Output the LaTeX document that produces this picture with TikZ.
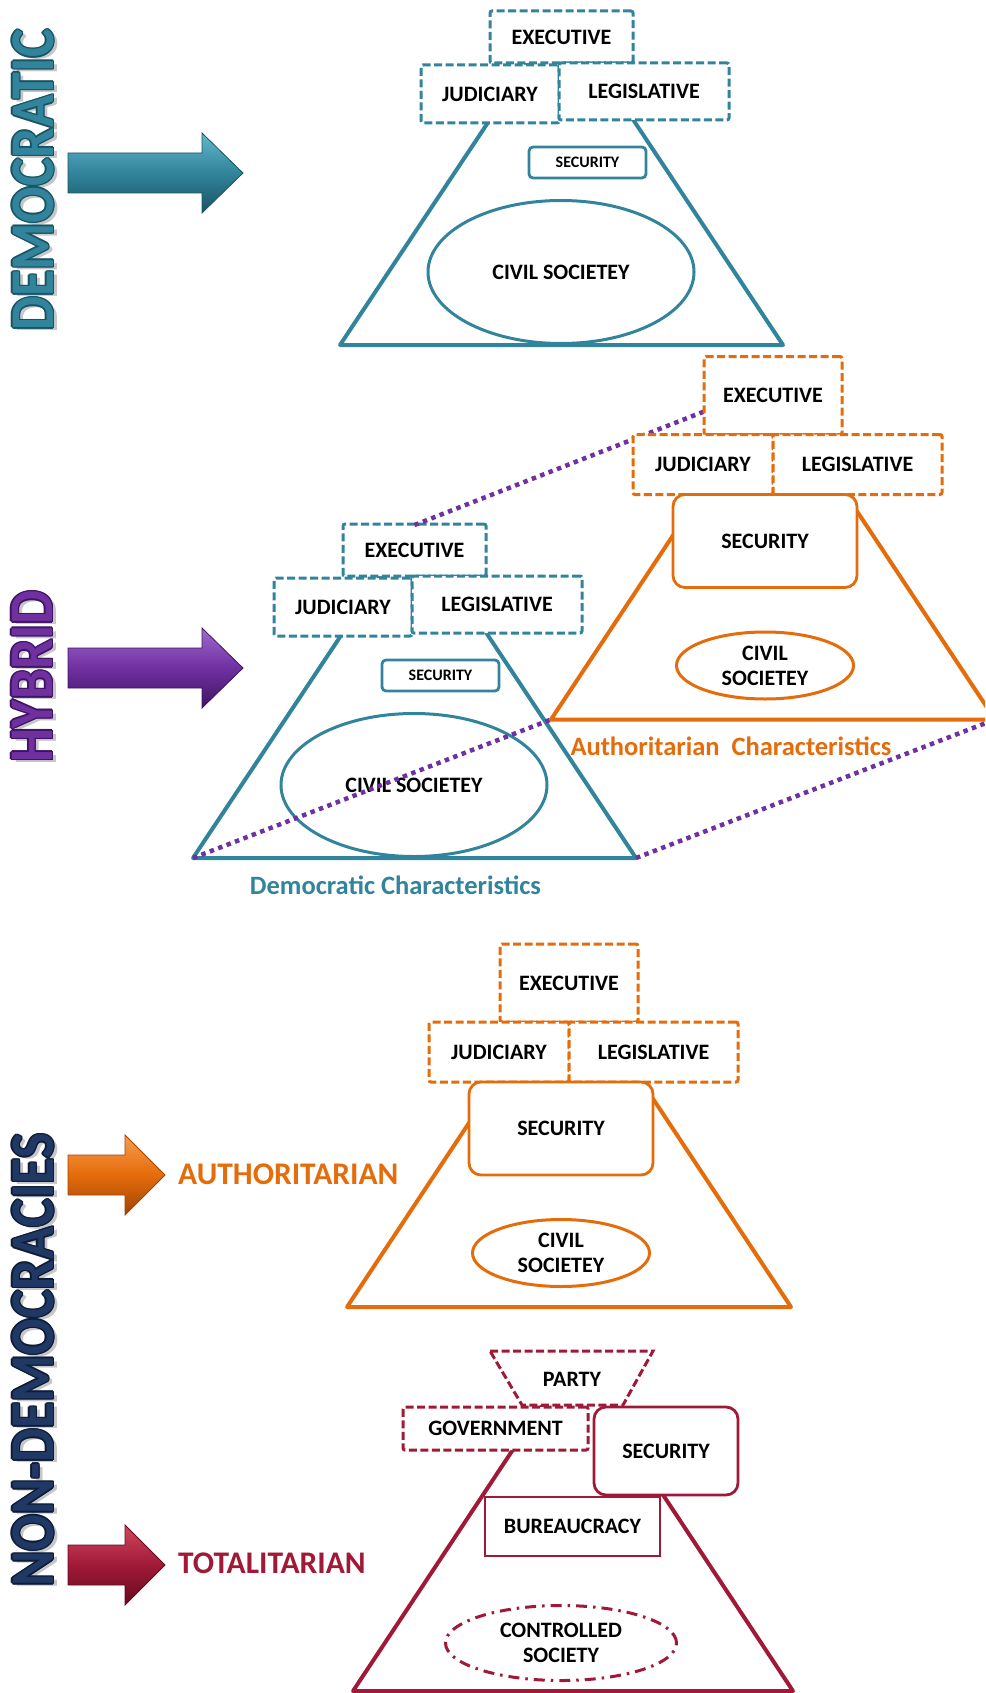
\documentclass[tikz,border=0pt]{standalone}
\usepackage{fontspec}
\setmainfont{Carlito}
\usetikzlibrary{shapes.geometric}

% palette
\definecolor{demteal}{RGB}{49,132,155}
\definecolor{demtealdk}{RGB}{25,84,100}
\definecolor{demteallt}{RGB}{100,182,202}
\definecolor{autorange}{RGB}{228,108,10}
\definecolor{autorangedk}{RGB}{160,68,6}
\definecolor{autorangelt}{RGB}{248,156,80}
\definecolor{hybpurple}{RGB}{112,48,160}
\definecolor{hybpurpledk}{RGB}{62,20,100}
\definecolor{hybpurplelt}{RGB}{160,105,205}
\definecolor{totred}{RGB}{160,26,56}
\definecolor{totreddk}{RGB}{100,10,30}
\definecolor{totredlt}{RGB}{210,70,95}
\definecolor{navytext}{RGB}{32,56,100}
\definecolor{navytextdk}{RGB}{14,28,56}

\newcommand\boxfont{\fontsize{22}{25}\selectfont\bfseries}
\newcommand\smallboxfont{\fontsize{16}{18}\selectfont\bfseries}
\newcommand\captionfont{\fontsize{26.5}{30}\selectfont\bfseries}
\newcommand\kindfont{\fontsize{31.5}{35}\selectfont\bfseries}
\newcommand\titlefont{\fontsize{54}{54}\selectfont\bfseries}

\tikzset{
  dashbox/.style={draw=#1, fill=white, line width=3pt, dash pattern=on 8pt off 3.5pt,
    rounded corners=2pt, inner sep=0pt, font=\boxfont, text=black},
  solidbox/.style={draw=#1, fill=white, line width=2.8pt, rounded corners=12pt,
    inner sep=0pt, font=\boxfont, text=black},
  smallsec/.style={draw=demteal, fill=white, line width=2.8pt, rounded corners=4pt,
    inner sep=0pt, font=\smallboxfont, text=black},
  society/.style={ellipse, draw=#1, line width=3pt, inner sep=0pt, font=\boxfont,
    align=center, text=black},
  pyramid/.style={draw=#1, line width=4pt, line join=round},
  zoomline/.style={draw=hybpurple, line width=4.5pt, dash pattern=on 4.5pt off 4.5pt},
  fatarrow/.style={top color=#1lt, bottom color=#1dk, middle color=#1,
    draw=#1dk, line width=0.8pt},
  sidetitle/.style={rotate=90, inner sep=0pt, font=\titlefont},
  sideshadow/.style={rotate=90, inner sep=0pt, font=\titlefont, text=black!55, opacity=0.4},
}

% vertical title with shadow and outline: name, colour, edge colour, x, y, text
\newcommand\verticaltitle[6]{%
  \node[sideshadow] (#1shadow) at (#4+4,#5+3) {\scalebox{1}[1.15]{#6}};
  \foreach \dx/\dy [count=\k] in {1.4/0,-1.4/0,0/1.4,0/-1.4,1/1,-1/1,1/-1,-1/-1}
    \node[sidetitle, text=#3] (#1edge\k) at (#4+\dx,#5+\dy) {\scalebox{1}[1.15]{#6}};
  \node[sidetitle, text=#2] (#1) at (#4,#5) {\scalebox{1}[1.15]{#6}};}

% block arrow: colour, left x, head base x, tip x, centre y
\newcommand\blockarrow[5]{%
  \shade[fatarrow=#1] (#2,#5-20) -- (#3,#5-20) -- (#3,#5-40) -- (#4,#5)
    -- (#3,#5+40) -- (#3,#5+20) -- (#2,#5+20) -- cycle;}

% corners of the authoritarian pyramid: prefix, shift x, shift y
\newcommand\orangecorners[3]{%
  \begin{scope}[shift={(#2,#3)}]
    \coordinate (#1bl) at (347,1307);
    \coordinate (#1br) at (791,1307);
    \coordinate (#1top) at (569,972);
  \end{scope}}

% democratic pyramid: prefix, shift x, shift y
\newcommand\tealgroup[3]{%
  \begin{scope}[shift={(#2,#3)}]
    \coordinate (#1bl) at (340,345);
    \coordinate (#1br) at (783,345);
    \coordinate (#1top) at (561.5,12);
    \draw[pyramid=demteal] (#1bl) -- (#1br) -- (#1top) -- cycle;
    \node[society=demteal, minimum width=266pt, minimum height=143pt] (#1civ) at (561,272) {CIVIL SOCIETEY};
    \node[smallsec, minimum width=117pt, minimum height=31pt] (#1sec) at (587.5,162.5) {SECURITY};
    \node[dashbox=demteal, minimum width=143pt, minimum height=52pt] (#1exec) at (561.5,37) {EXECUTIVE};
    \node[dashbox=demteal, minimum width=138pt, minimum height=58pt] (#1jud) at (490,94) {JUDICIARY};
    \node[dashbox=demteal, minimum width=170pt, minimum height=57pt] (#1leg) at (644,91.5) {LEGISLATIVE};
  \end{scope}}

% authoritarian pyramid: prefix, shift x, shift y
\newcommand\orangegroup[3]{%
  \orangecorners{#1}{#2}{#3}
  \begin{scope}[shift={(#2,#3)}]
    \draw[pyramid=autorange] (#1bl) -- (#1br) -- (#1top) -- cycle;
    \node[society=autorange, minimum width=177pt, minimum height=67pt] (#1civ) at (561,1253) {CIVIL\\SOCIETEY};
    \node[dashbox=autorange, minimum width=138pt, minimum height=78pt] (#1exec) at (569,983) {EXECUTIVE};
    \node[dashbox=autorange, minimum width=140pt, minimum height=60pt] (#1jud) at (499,1052) {JUDICIARY};
    \node[dashbox=autorange, minimum width=169pt, minimum height=60pt] (#1leg) at (653.5,1052) {LEGISLATIVE};
    \node[solidbox=autorange, minimum width=184pt, minimum height=93pt] (#1sec) at (561,1128.5) {SECURITY};
  \end{scope}}

\begin{document}
\begin{tikzpicture}[x=1pt, y=-1pt]
  \useasboundingbox (0,0) rectangle (985,1693);
  \clip (0,0) rectangle (985,1693);

  % side titles
  \verticaltitle{demtitle}{demteal}{demtealdk}{33}{180}{DEMOCRATIC}
  \verticaltitle{hybtitle}{hybpurple}{hybpurpledk}{32}{676.5}{HYBRID}
  \verticaltitle{nontitle}{navytext}{navytextdk}{33}{1360}{NON-DEMOCRACIES}

  % arrows
  \blockarrow{demteal}{68}{202}{243}{173}
  \blockarrow{hybpurple}{68}{202}{243}{668}
  \blockarrow{autorange}{68}{125}{165}{1175}
  \blockarrow{totred}{68}{125}{165}{1565}

  \node[font=\kindfont, text=autorange, anchor=base west, inner sep=0pt] (autlabel) at (178,1184) {AUTHORITARIAN};
  \node[font=\kindfont, text=totred, anchor=base west, inner sep=0pt] (totlabel) at (178,1573) {TOTALITARIAN};

  % democratic
  \tealgroup{d}{0}{0}

  % hybrid: democratic side
  \tealgroup{h}{-147}{513}
  \node[font=\captionfont, text=demteal, anchor=base, inner sep=0pt] (demchar) at (395.5,894) {Democratic Characteristics};

  % hybrid: projection lines towards the authoritarian side
  \orangecorners{o}{204}{-587.5}
  \draw[zoomline] (htop) -- (otop);
  \draw[zoomline] (hbl) -- (obl);
  \draw[zoomline] (hbr) -- (obr);

  % hybrid: authoritarian side
  \orangegroup{o}{204}{-587.5}
  \node[font=\captionfont, text=autorange, anchor=base, inner sep=0pt] (autchar) at (731,755) {Authoritarian\ \ Characteristics};

  % authoritarian
  \orangegroup{a}{0}{0}

  % totalitarian
  \coordinate (tbl) at (353,1691);
  \coordinate (tbr) at (793,1691);
  \coordinate (ttop) at (573,1359);
  \draw[pyramid=totred] (tbl) -- (tbr) -- (ttop) -- cycle;
  \node[society=totred, dash pattern=on 11pt off 6pt on 2.5pt off 6pt,
        minimum width=231pt, minimum height=75pt] (tciv) at (561,1643) {CONTROLLED\\SOCIETY};
  \filldraw[fill=white, draw=totred, line width=3pt, dash pattern=on 8pt off 3.5pt]
    (490,1351) -- (653,1351) -- (623,1405) -- (522,1405) -- cycle;
  \node[font=\boxfont, inner sep=0pt] (tparty) at (572,1379) {PARTY};
  \node[dashbox=totred, minimum width=185pt, minimum height=43pt] (tgov) at (495.5,1428.5) {GOVERNMENT};
  \node[solidbox=totred, minimum width=144pt, minimum height=88pt] (tsec) at (666,1451) {SECURITY};
  \node[draw=totred, fill=white, line width=2.8pt, inner sep=0pt, font=\boxfont,
        minimum width=175pt, minimum height=59pt] (tbur) at (572.5,1526.5) {BUREAUCRACY};
\end{tikzpicture}
\end{document}
